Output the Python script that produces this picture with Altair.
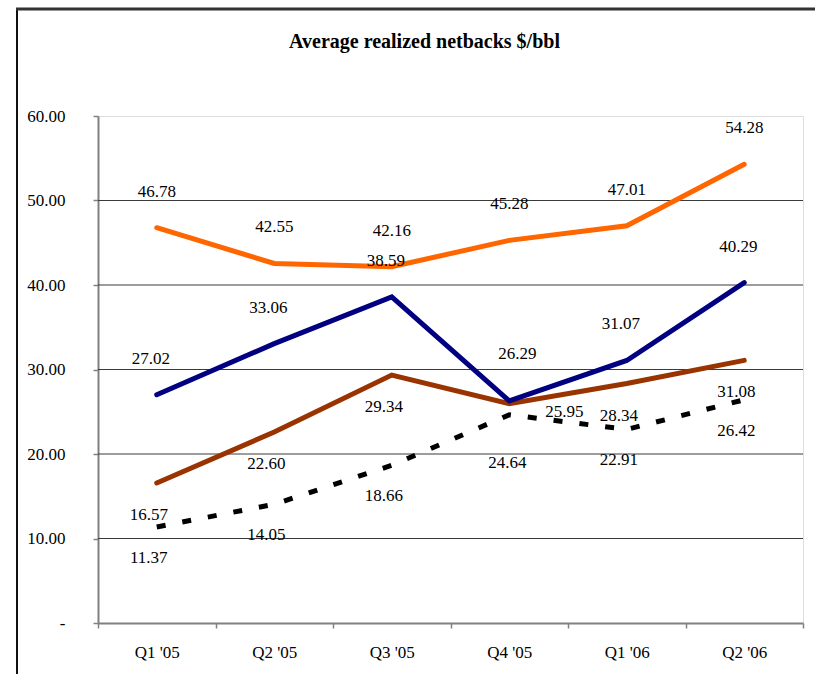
import altair as alt
import pandas as pd

# ---- data -------------------------------------------------------------
quarters = ["Q1 '05", "Q2 '05", "Q3 '05", "Q4 '05", "Q1 '06", "Q2 '06"]
orange_vals = [46.78, 42.55, 42.16, 45.28, 47.01, 54.28]
navy_vals = [27.02, 33.06, 38.59, 26.29, 31.07, 40.29]
brown_vals = [16.57, 22.60, 29.34, 25.95, 28.34, 31.08]
dashed_vals = [11.37, 14.05, 18.66, 24.64, 22.91, 26.42]
y_ticks = [0, 10, 20, 30, 40, 50, 60]
grid_values = [10, 20, 30, 40, 50]
title_text = "Average realized netbacks $/bbl"

# ---- styling ----------------------------------------------------------
FONT = "Liberation Serif, Times New Roman, serif"
W, H = 705, 507
PAD_L, PAD_T = 98, 116

series_style = {
    "s1": {"color": "#FF6600", "dash": None},
    "s2": {"color": "#000080", "dash": None},
    "s3": {"color": "#993300", "dash": None},
    "s4": {"color": "#000000", "dash": [9, 17]},
}
# value label nudges (pixels): default per series, plus a few crowded points
label_offset = {"s1": (0, -36), "s2": (-6, -36), "s3": (-8, 32), "s4": (-8, 31)}
label_override = {
    ("s2", "Q4 '05"): (8, -47),
    ("s3", "Q4 '05"): (55, 8),
    ("s4", "Q4 '05"): (-2, 48),
}

rows = []
for key, vals in [("s1", orange_vals), ("s2", navy_vals),
                  ("s3", brown_vals), ("s4", dashed_vals)]:
    for q, v in zip(quarters, vals):
        rows.append({"series": key, "quarter": q, "value": v,
                     "label": f"{v:.2f}"})
df = pd.DataFrame(rows)

x_axis = alt.Axis(
    title=None, labelAngle=0, labelFont=FONT, labelFontSize=17,
    labelColor="#000000", labelPadding=16, tickBand="extent",
    tickSize=5, tickColor="#808080", tickWidth=1.5,
    domainColor="#808080", domainWidth=2, grid=False,
)
y_axis = alt.Axis(
    title=None, values=y_ticks, labelFont=FONT, labelFontSize=17,
    labelColor="#000000", labelPadding=28, tickSize=5,
    tickColor="#808080", tickWidth=1.5, domainColor="#808080",
    domainWidth=2, grid=False,
    labelExpr="datum.value == 0 ? '-\u00a0\u00a0\u00a0\u00a0' : format(datum.value, '.2f')",
)
x_scale = alt.Scale(type="band", domain=quarters, paddingInner=0, paddingOuter=0)
y_scale = alt.Scale(domain=[0, 60], nice=False, zero=True)


def x_enc():
    return alt.X("quarter:N", scale=x_scale, axis=x_axis, bandPosition=0.5)


def y_enc(field="value"):
    return alt.Y(f"{field}:Q", scale=y_scale, axis=y_axis)


# horizontal gridlines
grid = alt.Chart(pd.DataFrame({"g": grid_values})).mark_rule(
    color="#3a3a3a", strokeWidth=1
).encode(y=y_enc("g"), x=alt.value(0), x2=alt.value(W))

layers = [grid]

for key in ["s3", "s2", "s1", "s4"]:
    st = series_style[key]
    kw = dict(color=st["color"], strokeWidth=5, strokeJoin="miter")
    if st["dash"]:
        kw.update(strokeDash=st["dash"], strokeCap="butt")
    else:
        kw.update(strokeCap="round")
    layers.append(
        alt.Chart(df).transform_filter(alt.datum.series == key)
        .mark_line(**kw).encode(x=x_enc(), y=y_enc())
    )

# value labels
for key in ["s1", "s2", "s3", "s4"]:
    dx, dy = label_offset[key]
    skip = [q for (s, q) in label_override if s == key]
    base = alt.Chart(df).transform_filter(alt.datum.series == key)
    if skip:
        base = base.transform_filter(
            "indexof(" + str(skip) + ", datum.quarter) < 0"
        )
    layers.append(
        base.mark_text(font=FONT, fontSize=17, color="#000000", dx=dx, dy=dy,
                       align="center", baseline="middle")
        .encode(x=x_enc(), y=y_enc(), text="label:N")
    )
for (key, q), (dx, dy) in label_override.items():
    layers.append(
        alt.Chart(df)
        .transform_filter((alt.datum.series == key) & (alt.datum.quarter == q))
        .mark_text(font=FONT, fontSize=17, color="#000000", dx=dx, dy=dy,
                   align="center", baseline="middle")
        .encode(x=x_enc(), y=y_enc(), text="label:N")
    )

one_row = alt.Data(values=[{}])

# chart heading
heading = alt.Chart(one_row).mark_text(
    text=title_text, font=FONT, fontSize=20, fontWeight="bold", color="#000000",
    align="center", baseline="alphabetic",
).encode(x=alt.value(424.5 - PAD_L), y=alt.value(48 - PAD_T))

# outer frame (left and top edges)
frame_left = alt.Chart(one_row).mark_rule(color="#111111", strokeWidth=2).encode(
    x=alt.value(17 - PAD_L), y=alt.value(8 - PAD_T), y2=alt.value(674 - PAD_T)
)
frame_top = alt.Chart(one_row).mark_rule(color="#333333", strokeWidth=3).encode(
    y=alt.value(9 - PAD_T), x=alt.value(16 - PAD_L), x2=alt.value(815 - PAD_L)
)
layers += [heading, frame_left, frame_top]

chart = alt.layer(*layers).properties(
    width=W, height=H,
    autosize=alt.AutoSizeParams(type="none"),
    padding={"left": PAD_L, "top": PAD_T, "right": 815 - PAD_L - W, "bottom": 674 - PAD_T - H},
).configure_view(stroke=None).configure(background="#ffffff")

chart.save("out.html", embed_options={"renderer": "svg", "actions": False})
